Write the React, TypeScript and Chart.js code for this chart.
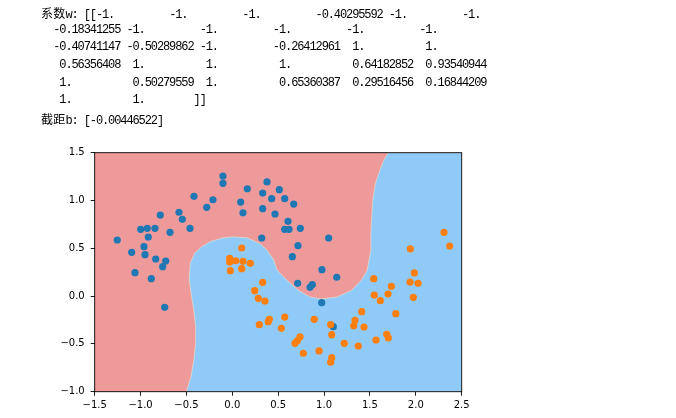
import React, { useEffect, useRef } from "react";
import { Chart, registerables } from "chart.js";
Chart.register(...registerables);

// ---- data ----
const weights = [
  -1, -1, -1, -0.40295592, -1, -1,
  -0.18341255, -1, -1, -1, -1, -1,
  -0.40741147, -0.50289862, -1, -0.26412961, 1, 1,
  0.56356408, 1, 1, 1, 0.64182852, 0.93540944,
  1, 0.50279559, 1, 0.65360387, 0.29516456, 0.16844209,
  1, 1,
];
const intercept = [-0.00446522];

const class0X = [
  -0.418, -0.211, -0.279, -0.785, -0.581, -0.545, -0.461, -0.999, -0.927, -0.843,
  -0.679, -0.916, -1.254, -0.963, -1.097, -0.952, -0.835, -0.726, -0.759, -1.061,
  -0.883, -0.737, -0.102, -0.102, 0.378, 0.163, 0.512, 0.331, 0.429, 0.571,
  0.669, 0.091, 0.116, 0.331, 0.465, 0.607, 0.571, 0.618, 0.741, 0.32,
  1.05, 0.716, 0.654, 0.977, 0.712, 0.847, 0.872, 0.974, 1.138, 1.101,
];
const class0Y = [
  1.044, 1.008, 0.929, 0.848, 0.877, 0.803, 0.709, 0.699, 0.709, 0.709,
  0.667, 0.618, 0.587, 0.517, 0.458, 0.433, 0.388, 0.367, 0.308, 0.245,
  0.182, -0.117, 1.256, 1.18, 1.194, 1.123, 1.113, 1.078, 1.019, 1.019,
  0.963, 0.984, 0.872, 0.914, 0.859, 0.782, 0.699, 0.699, 0.709, 0.608,
  0.608, 0.527, 0.412, 0.276, 0.134, 0.092, 0.119, -0.069, 0.197, -0.32,
];
const class1X = [
  0.102, -0.029, 0.037, 0.116, 0.196, -0.029, -0.022, 0.102,
  2.307, 2.369, 1.94, 1.984,
  0.331, 0.244, 0.283, 0.356, 0.571, 0.893, 0.294, 0.392, 0.403, 0.534,
  1.072, 1.083, 0.738, 0.683, 0.708, 0.774, 0.945, 1.083, 1.072,
  1.541, 1.733, 1.937, 2.024, 1.547, 1.697, 1.613, 1.973, 1.41, 1.781,
  1.337, 1.323, 1.435, 1.683, 1.7, 1.566, 1.22, 1.373,
];
const class1Y = [
  0.503, 0.395, 0.37, 0.364, 0.343, 0.357, 0.266, 0.287,
  0.667, 0.524, 0.493, 0.242,
  0.144, 0.057, -0.023, -0.051, -0.219, -0.243, -0.299, -0.268, -0.243, -0.337,
  -0.299, -0.404, -0.425, -0.494, -0.467, -0.598, -0.574, -0.644, -0.692,
  0.182, 0.103, 0.147, 0.134, 0.011, 0.022, -0.048, -0.013, -0.163, -0.184,
  -0.253, -0.31, -0.323, -0.4, -0.438, -0.459, -0.494, -0.522,
];

// decision boundary (class-0 region lies to the left / above)
const boundaryX = [
  -0.5, -0.45, -0.42, -0.4, -0.4, -0.42, -0.45, -0.47, -0.46, -0.41,
  -0.33, -0.24, -0.1, 0.01, 0.16, 0.3, 0.38, 0.45, 0.49, 0.59,
  0.72, 0.85, 0.97, 1.14, 1.3, 1.41, 1.47, 1.49, 1.51, 1.51,
  1.52, 1.53, 1.56, 1.61, 1.65, 1.7,
];
const boundaryY = [
  -1.0, -0.84, -0.67, -0.49, -0.32, -0.15, 0.03, 0.17, 0.34, 0.45,
  0.52, 0.57, 0.61, 0.62, 0.61, 0.55, 0.48, 0.38, 0.27, 0.17,
  0.06, -0.01, -0.03, -0.01, 0.06, 0.17, 0.27, 0.38, 0.48, 0.66,
  0.83, 1.0, 1.18, 1.32, 1.42, 1.5,
];

const xRange = [-1.5, 2.5];
const yRange = [-1.0, 1.5];
const tickStep = 0.5;

// ---- text formatting (numpy-like) ----
function fmtNum(v: number): string {
  if (Math.abs(v) === 1) return (v < 0 ? "-1." : " 1.").padEnd(11, " ");
  return (v < 0 ? "-" : " ") + Math.abs(v).toFixed(8);
}
function buildLines(): string[] {
  const lines: string[] = [];
  const perLine = 6;
  for (let i = 0; i < weights.length; i += perLine) {
    const chunk = weights.slice(i, i + perLine).map(fmtNum);
    let s = chunk.join(" ");
    if (i === 0) s = "[[" + s;
    else s = "  " + s;
    if (i + perLine >= weights.length) s = s + "]]";
    lines.push(s.replace(/\s+$/, ""));
  }
  lines[0] = "系数w: " + lines[0];
  lines.push("截距b: [" + intercept.map((v) => v.toFixed(8)).join(" ") + "]");
  return lines;
}

const C_RED = "#EF9A9A";
const C_BLUE_BG = "#90CAF9";

function renderLine(s: string, key: number) {
  const parts: React.ReactNode[] = [];
  let buf = "";
  let k = 0;
  for (const ch of s) {
    if (/[\u4e00-\u9fff]/.test(ch)) {
      if (buf) { parts.push(buf); buf = ""; }
      parts.push(
        <span key={k++} style={{ fontFamily: '"Noto Sans CJK SC"', letterSpacing: "0.2px" }}>{ch}</span>
      );
    } else buf += ch;
  }
  if (buf) parts.push(buf);
  return (
    <div key={key} style={{ position: "absolute", left: 41, top: 4.2 + key * 17.6, height: 17.6, lineHeight: "17.6px", whiteSpace: "pre" }}>
      {parts}
    </div>
  );
}

export default function App() {
  const ref = useRef<HTMLCanvasElement | null>(null);
  useEffect(() => {
    if (!ref.current) return;
    const bgPlugin = {
      id: "bgRegions",
      beforeDraw(chart: any) {
        const { ctx, chartArea: a, scales } = chart;
        const xs = scales.x, ys = scales.y;
        ctx.save();
        ctx.beginPath();
        ctx.rect(a.left, a.top, a.right - a.left, a.bottom - a.top);
        ctx.clip();
        ctx.fillStyle = C_BLUE_BG;
        ctx.fillRect(a.left, a.top, a.right - a.left, a.bottom - a.top);
        ctx.beginPath();
        boundaryX.forEach((bx, i) => {
          const px = xs.getPixelForValue(bx);
          const py = ys.getPixelForValue(boundaryY[i]);
          if (i === 0) ctx.moveTo(px, a.bottom + 2);
          ctx.lineTo(px, py);
        });
        ctx.lineTo(xs.getPixelForValue(boundaryX[boundaryX.length - 1]), a.top - 2);
        ctx.lineTo(a.left - 2, a.top - 2);
        ctx.lineTo(a.left - 2, a.bottom + 2);
        ctx.closePath();
        ctx.fillStyle = C_RED;
        ctx.fill();
        ctx.beginPath();
        boundaryX.forEach((bx, i) => {
          const px = xs.getPixelForValue(bx);
          const py = ys.getPixelForValue(boundaryY[i]);
          if (i === 0) ctx.moveTo(px, py);
          else ctx.lineTo(px, py);
        });
        ctx.strokeStyle = "rgba(250,245,205,0.55)";
        ctx.lineWidth = 0.8;
        ctx.stroke();
        ctx.restore();
      },
      afterDraw(chart: any) {
        const { ctx, chartArea: a } = chart;
        ctx.save();
        ctx.strokeStyle = "#000";
        ctx.lineWidth = 0.9;
        ctx.strokeRect(a.left, a.top, a.right - a.left, a.bottom - a.top);
        ctx.restore();
      },
    };
    const fmtTick = (v: any) => {
      const n = Number(v);
      return (n < 0 ? "\u2212" : "") + Math.abs(n).toFixed(1);
    };
    const tickFont = { family: "DejaVu Sans", size: 10 };
    const chart = new Chart(ref.current, {
      type: "scatter",
      data: {
        datasets: [
          {
            data: class1X.map((x, i) => ({ x, y: class1Y[i] })),
            backgroundColor: "#ff7f0e",
            borderWidth: 0,
            pointRadius: 3.6,
            pointHoverRadius: 3.6,
          },
          {
            data: class0X.map((x, i) => ({ x, y: class0Y[i] })),
            backgroundColor: "#1f77b4",
            borderWidth: 0,
            pointRadius: 3.6,
            pointHoverRadius: 3.6,
          },
        ],
      },
      plugins: [bgPlugin],
      options: {
        animation: false,
        responsive: false,
        devicePixelRatio: 1,
        layout: { padding: { top: 152.7, right: 214.3, left: 0, bottom: 0 } },
        plugins: { legend: { display: false }, tooltip: { enabled: false } },
        scales: {
          x: {
            type: "linear",
            min: xRange[0],
            max: xRange[1],
            afterFit: (s: any) => { s.height = 26.3; },
            ticks: { stepSize: tickStep, callback: fmtTick, color: "#000", font: tickFont, padding: 4, maxRotation: 0, autoSkip: false },
            grid: { display: true, drawOnChartArea: false, drawTicks: true, tickLength: 4, tickColor: "#000", tickWidth: 0.9 },
            border: { display: false },
          },
          y: {
            type: "linear",
            min: yRange[0],
            max: yRange[1],
            afterFit: (s: any) => { s.width = 94.7; },
            ticks: { stepSize: tickStep, callback: fmtTick, color: "#000", font: tickFont, padding: 6, autoSkip: false },
            grid: { display: true, drawOnChartArea: false, drawTicks: true, tickLength: 4, tickColor: "#000", tickWidth: 0.9 },
            border: { display: false },
          },
        },
      } as any,
    });
    return () => chart.destroy();
  }, []);

  const lines = buildLines();
  return (
    <div style={{ position: "fixed", left: 0, top: 0, width: 676, height: 418, background: "#fff", overflow: "hidden" }}>
      <canvas ref={ref} width={676} height={418} style={{ position: "absolute", left: 0, top: 0, width: 676, height: 418 }} />
      <div style={{ position: "absolute", left: 0, top: 0, fontFamily: '"Liberation Mono", monospace', fontSize: 12, letterSpacing: "-1.1px", color: "#000" }}>
        {lines.map((l, i) => renderLine(l, i))}
      </div>
    </div>
  );
}
